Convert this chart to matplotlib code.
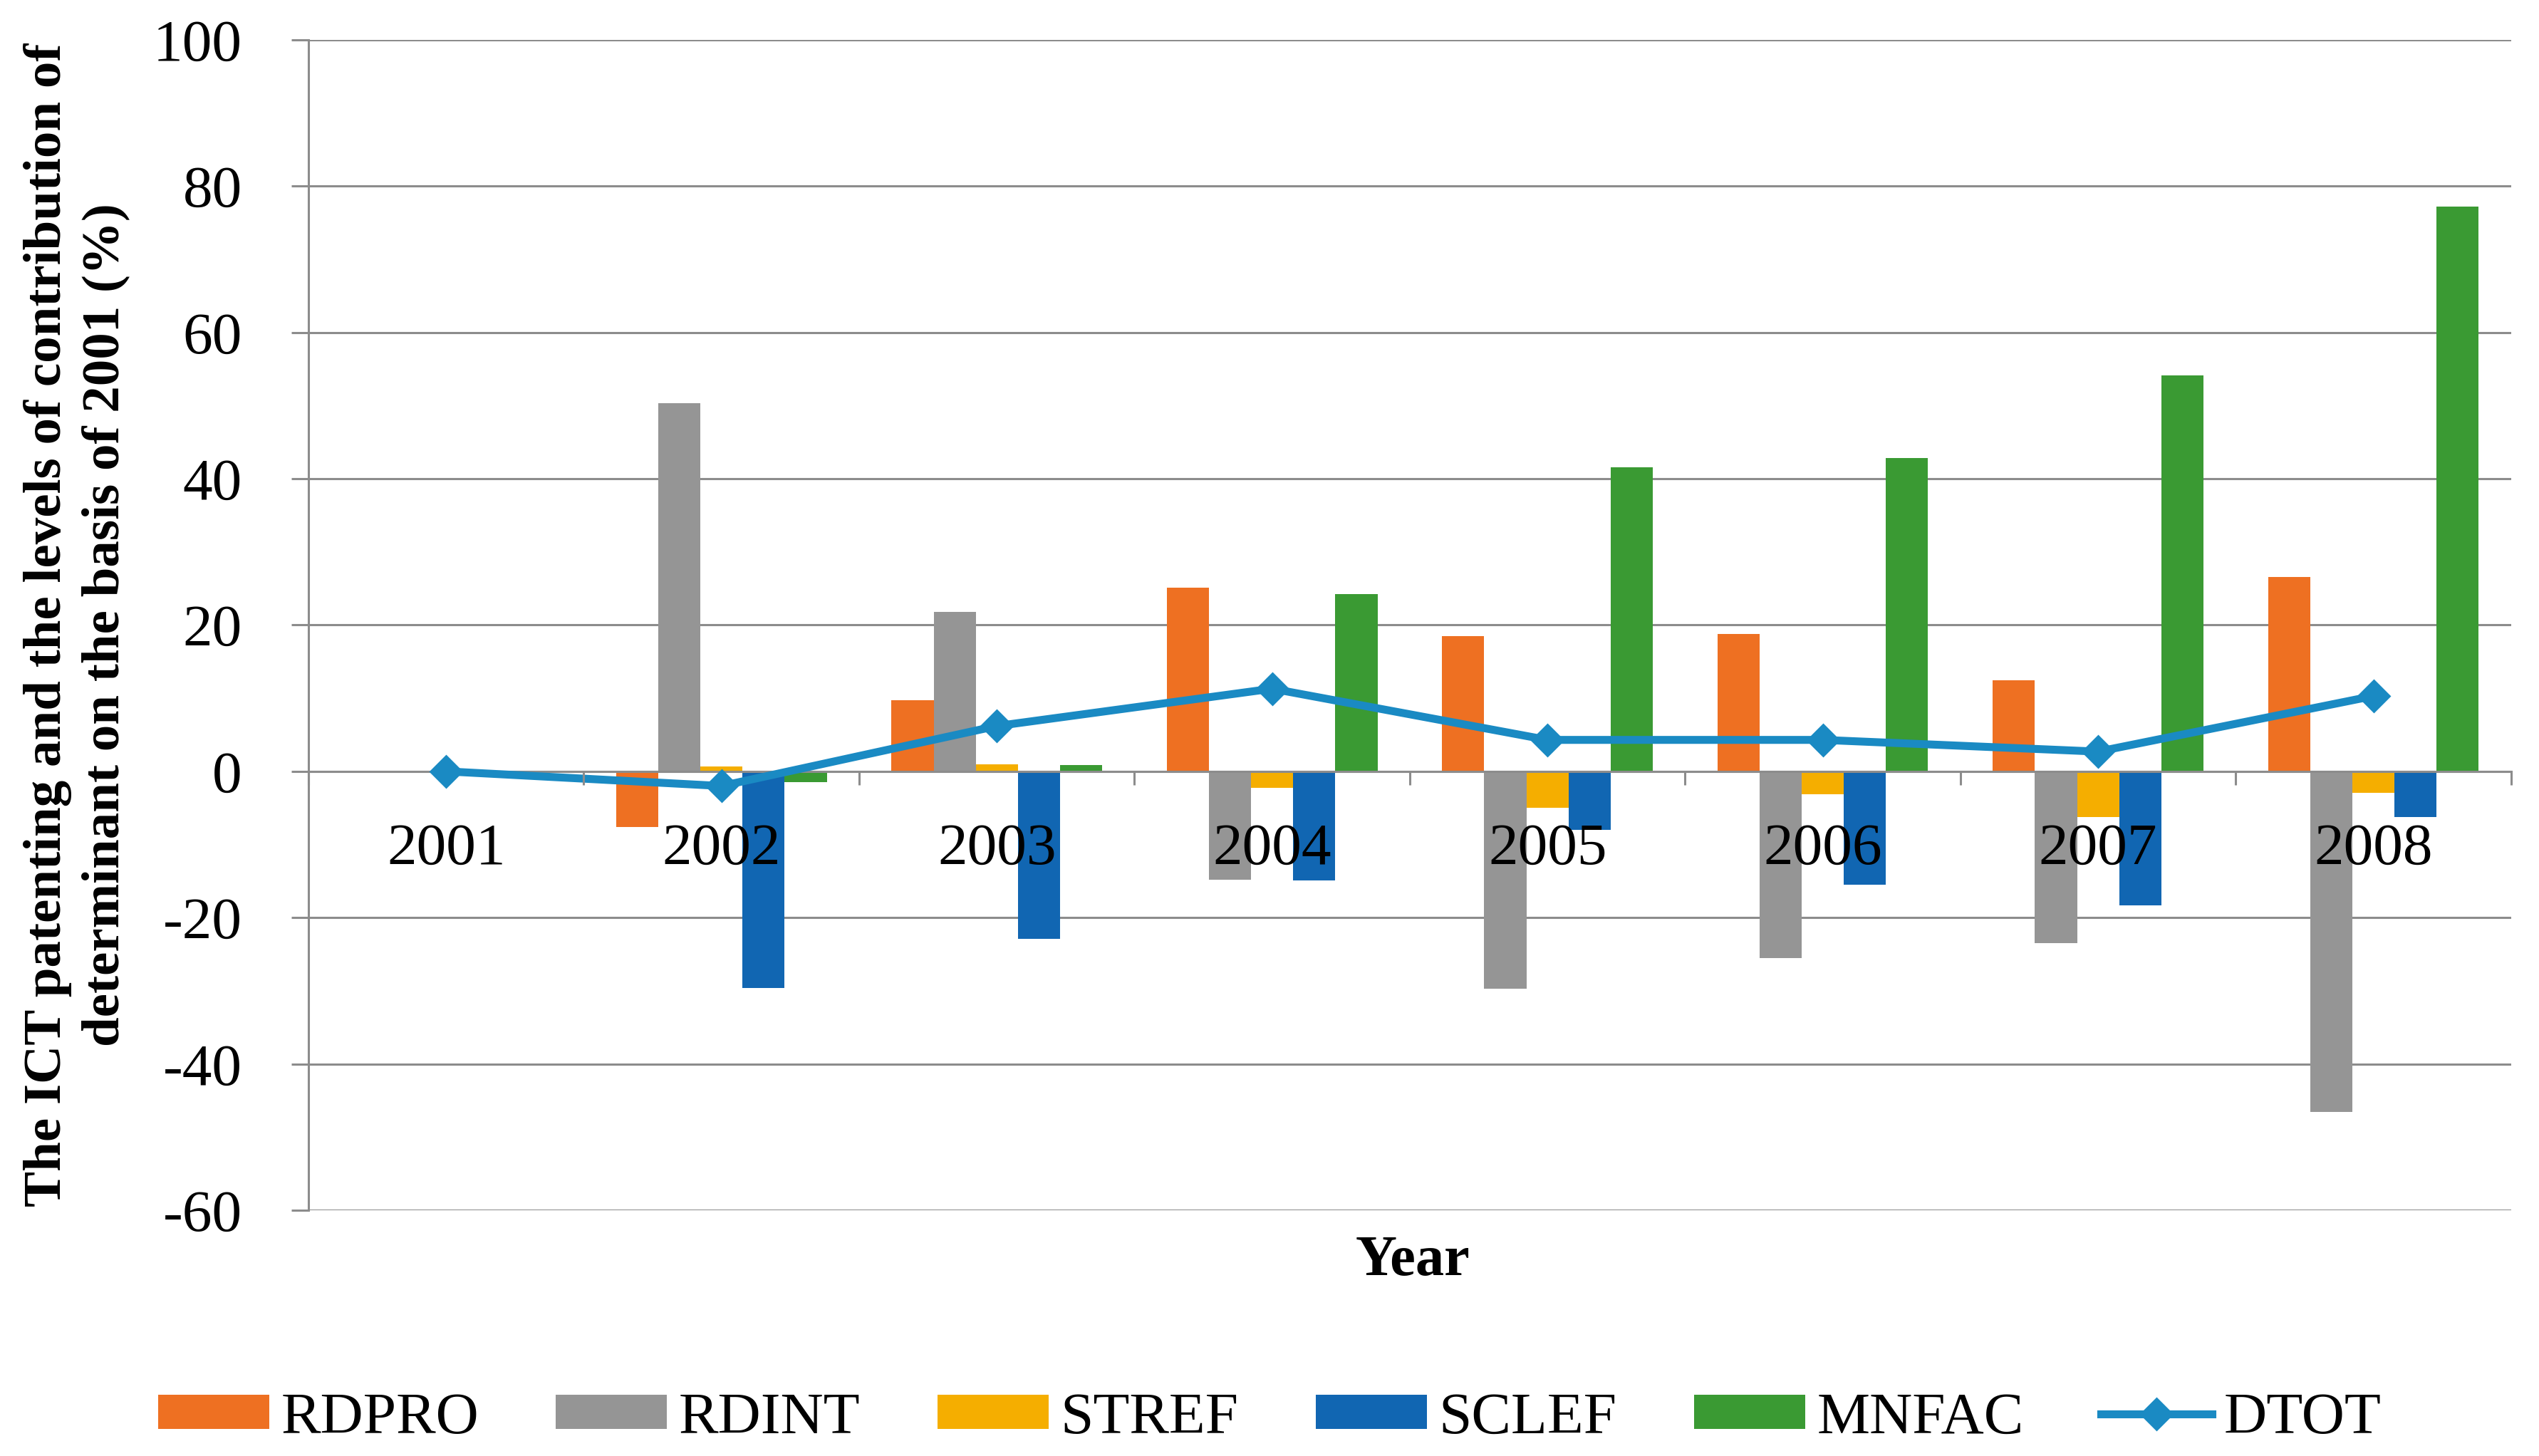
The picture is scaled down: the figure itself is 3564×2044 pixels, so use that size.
import numpy as np
import matplotlib.pyplot as plt

plt.rcParams['font.family'] = ['Liberation Serif', 'DejaVu Serif']
plt.rcParams['axes.unicode_minus'] = False

years = ['2001', '2002', '2003', '2004', '2005', '2006', '2007', '2008']
rdpro = [0, -7.6, 9.7, 25.1, 18.5, 18.8, 12.5, 26.6]
rdint = [0, 50.3, 21.8, -14.8, -29.7, -25.5, -23.5, -46.6]
stref = [0, 0.7, 1.0, -2.3, -5.0, -3.1, -6.2, -2.9]
sclef = [0, -29.6, -22.9, -14.9, -8.0, -15.5, -18.3, -6.2]
mnfac = [0, -1.5, 0.9, 24.2, 41.6, 42.8, 54.1, 77.2]
dtot = [0, -2.0, 6.2, 11.3, 4.3, 4.3, 2.7, 10.3]

series = [('RDPRO', rdpro, '#EE7022'),
          ('RDINT', rdint, '#959595'),
          ('STREF', stref, '#F5AE00'),
          ('SCLEF', sclef, '#1166B2'),
          ('MNFAC', mnfac, '#3A9A33')]

grid_col = '#8C8C8C'

fig = plt.figure(figsize=(17.82, 10.22), dpi=200)
ax = fig.add_axes([0.1215, 0.1688, 0.8675, 0.8038])

x = np.arange(len(years))
w = 0.153
handles = []
for i, (name, vals, col) in enumerate(series):
    b = ax.bar(x + (i - 2) * w, vals, w, color=col, label=name, zorder=2)
    handles.append(b)

ln, = ax.plot(x, dtot, color='#1A8AC3', lw=4, marker='D', ms=11,
              label='DTOT', zorder=4)
handles.append(ln)

ax.set_xlim(-0.5, len(years) - 0.5)
ax.set_ylim(-60, 100)
ax.set_yticks(np.arange(-60, 101, 20))
ax.yaxis.grid(True, color=grid_col, lw=1.1)
ax.set_axisbelow(True)
ax.xaxis.set_zorder(5)

for s in ['top', 'right']:
    ax.spines[s].set_visible(False)
ax.spines['bottom'].set_position(('data', 0))
ax.spines['bottom'].set_color(grid_col)
ax.spines['bottom'].set_linewidth(1.1)
ax.spines['left'].set_color(grid_col)
ax.spines['left'].set_linewidth(1.1)

ax.set_xticks(np.arange(-0.5, len(years), 1.0))
ax.set_xticklabels([])
ax.set_xticks(x, minor=True)
ax.set_xticklabels(years, minor=True)
ax.tick_params(axis='x', which='major', direction='out', length=7,
               color=grid_col, width=1.1)
ax.tick_params(axis='x', which='minor', length=0, pad=26, labelsize=30)
ax.tick_params(axis='y', direction='out', length=8.5, color=grid_col,
               width=1.1, pad=25, labelsize=30)

fig.text(0.5565, 0.134, 'Year', ha='center', va='center',
         fontsize=29, fontweight='bold')
fig.text(0.0303, 0.571,
         'The ICT patenting and the levels of contribution of\n'
         'determinant on the basis of 2001 (%)',
         rotation=90, ha='center', va='center', fontsize=27,
         fontweight='bold', linespacing=1.25)

fig.legend(handles=handles, loc='center', bbox_to_anchor=(0.5, 0.0254),
           ncol=6, frameon=False, fontsize=30, handlelength=1.87,
           handleheight=0.5, handletextpad=0.2, columnspacing=1.3)

fig.savefig('out.png', dpi=200)
